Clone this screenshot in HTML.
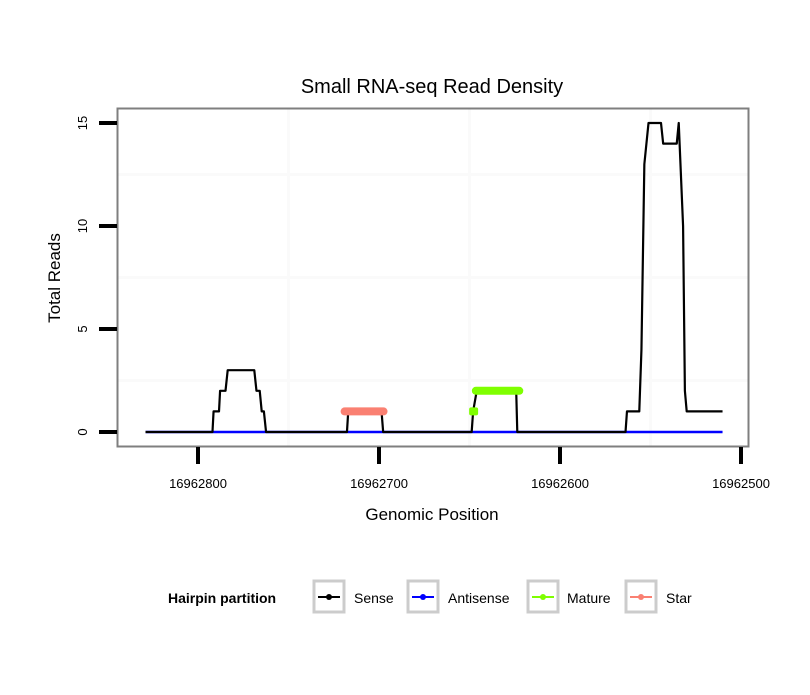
<!DOCTYPE html>
<html><head><meta charset="utf-8"><style>
body{margin:0;background:#fff}
svg text{font-family:"Liberation Sans",sans-serif}
</style></head><body>
<svg id="chart" width="810" height="690" viewBox="0 0 810 690">
<rect width="810" height="690" fill="#fff"/>
<text x="432" y="93" font-size="20" text-anchor="middle">Small RNA-seq Read Density</text>
<g id="grid"></g>
<g id="series"></g>
<rect x="117.5" y="108.5" width="631" height="338" fill="none" stroke="#7f7f7f" stroke-width="2"/>
<g id="axes"></g>
<text x="432" y="520" font-size="17" text-anchor="middle">Genomic Position</text>
<text transform="translate(60,278) rotate(-90)" font-size="17" text-anchor="middle">Total Reads</text>
<g font-size="14">
<text x="168" y="603" font-weight="bold">Hairpin partition</text>
<g><rect x="314" y="581" width="30" height="31" fill="#fff" stroke="#ccc" stroke-width="3"/><line x1="318" y1="597" x2="340" y2="597" stroke="#000" stroke-width="2"/><circle cx="329" cy="597" r="3" fill="#000"/><text x="354" y="603">Sense</text></g>
<g><rect x="408" y="581" width="30" height="31" fill="#fff" stroke="#ccc" stroke-width="3"/><line x1="412" y1="597" x2="434" y2="597" stroke="#00f" stroke-width="2"/><circle cx="423" cy="597" r="3" fill="#00f"/><text x="448" y="603">Antisense</text></g>
<g><rect x="528" y="581" width="30" height="31" fill="#fff" stroke="#ccc" stroke-width="3"/><line x1="532" y1="597" x2="554" y2="597" stroke="#7fff00" stroke-width="2"/><circle cx="543" cy="597" r="3" fill="#7fff00"/><text x="567" y="603">Mature</text></g>
<g><rect x="626" y="581" width="30" height="31" fill="#fff" stroke="#ccc" stroke-width="3"/><line x1="630" y1="597" x2="652" y2="597" stroke="#fa8072" stroke-width="2"/><circle cx="641" cy="597" r="3" fill="#fa8072"/><text x="666" y="603">Star</text></g>
</g>
</svg>
<script>
const base = 16962800;
const senseOffsets = [-29,8,8.6,11.6,12.2,15.2,16.4,31.1,32.3,34.1,35.2,36.4,37.6,82.3,83,101.4,102.3,151.2,152,154,175.8,176.4,236.2,237,243.8,245,246.6,248.9,255.8,257,264.5,265.6,268,269,270,289.8];
const senseValues  = [0,0,1,1,2,2,3,3,2,2,1,1,0,0,1,1,0,0,1,2,2,0,0,1,1,4,13,15,15,14,14,15,10,2,1,1];
const antisenseOffsets = [-29,289.8];
const antisenseValues = [0,0];
const starOffsets = [81,102.5];
const starValues = [1,1];
const matureOffsets = [153.5,177.5];
const matureValues = [2,2];
const maturePointOffsets = [152];
const maturePointValues = [1];
const xTicks = [16962800,16962700,16962600,16962500];
const yTicks = [0,5,10,15];

const NS='http://www.w3.org/2000/svg';
const xs = p => 198 + (16962800 - p) * 1.81;
const ys = v => 432 - v * 20.6;
function mk(tag, attrs, parent){const e=document.createElementNS(NS,tag);for(const k in attrs)e.setAttribute(k,attrs[k]);parent.appendChild(e);return e;}
const grid=document.getElementById('grid'), series=document.getElementById('series'), axes=document.getElementById('axes');
[2.5,7.5,12.5].forEach(v=>{const l=mk('line',{x1:118,x2:748,y1:ys(v),y2:ys(v),stroke:'#fafafa','stroke-width':3},grid);});
[16962750,16962650,16962550].forEach(p=>{const l=mk('line',{x1:xs(p),x2:xs(p),y1:109,y2:446,stroke:'#fafafa',"stroke-width":3},grid);});

function pts(offs, vals){return offs.map((o,i)=>xs(base-o)+','+ys(vals[i])).join(' ');}
const anti=mk('polyline',{points:pts(antisenseOffsets,antisenseValues),fill:'none',stroke:'#00f','stroke-width':2.5},series);


const sense=mk('polyline',{points:pts(senseOffsets,senseValues),fill:'none',stroke:'#000','stroke-width':2.2,'stroke-linejoin':'round'},series);


const star=mk('polyline',{points:pts(starOffsets,starValues),fill:'none',stroke:'#fa8072','stroke-width':8,'stroke-linecap':'round'},series);


const mat=mk('polyline',{points:pts(matureOffsets,matureValues),fill:'none',stroke:'#7fff00','stroke-width':8,'stroke-linecap':'round'},series);


maturePointOffsets.forEach((o,i)=>{const r=mk('rect',{x:xs(base-o)-4,y:ys(maturePointValues[i])-4,width:9,height:8,rx:2,fill:'#7fff00'},series);});

xTicks.forEach(p=>{
 const l=mk('line',{x1:xs(p),x2:xs(p),y1:447,y2:464,stroke:'#000','stroke-width':4},axes);
 
 
 const t=mk('text',{x:xs(p),y:488,'font-size':13,'text-anchor':'middle'},axes);t.textContent=p;
 
 
});
yTicks.forEach(v=>{
 const l=mk('line',{x1:99,x2:117,y1:ys(v),y2:ys(v),stroke:'#000','stroke-width':4},axes);
 
 
 const t=mk('text',{transform:`translate(87,${ys(v)}) rotate(-90)`,'font-size':13,'text-anchor':'middle'},axes);t.textContent=v;
 
 
});
</script>
</body></html>
